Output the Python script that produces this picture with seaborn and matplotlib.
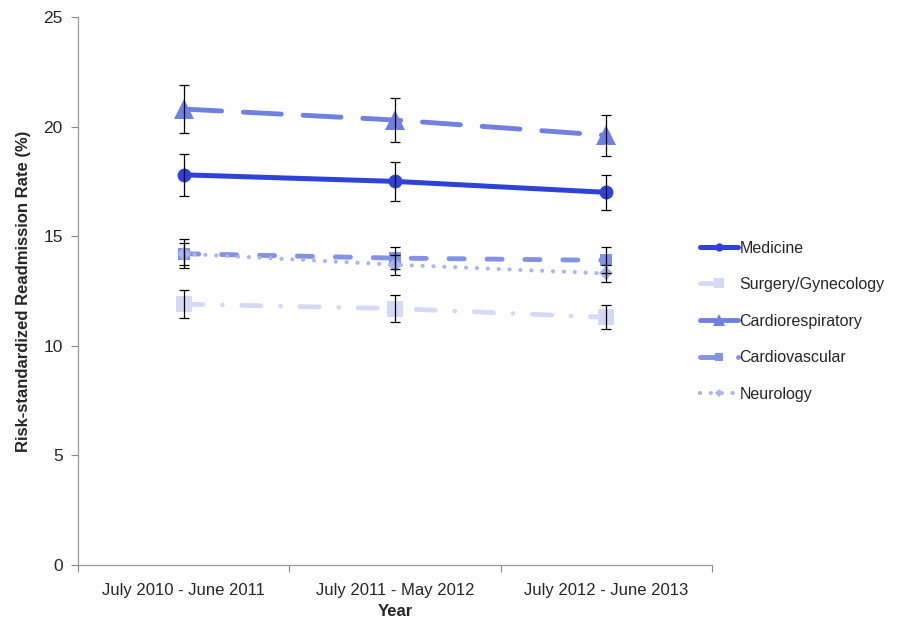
import numpy as np
import pandas as pd
import matplotlib
matplotlib.use("Agg")
import matplotlib.pyplot as plt
import seaborn as sns

# data
periods = ["July 2010 - June 2011", "July 2011 - May 2012", "July 2012 - June 2013"]
series = ["Medicine", "Surgery/Gynecology", "Cardiorespiratory", "Cardiovascular", "Neurology"]
medicine = [17.8, 17.5, 17.0]
surgery = [11.9, 11.7, 11.3]
cardioresp = [20.8, 20.3, 19.6]
cardiovasc = [14.2, 14.0, 13.9]
neurology = [14.2, 13.7, 13.3]
medicine_err = [0.95, 0.9, 0.8]
surgery_err = [0.65, 0.6, 0.55]
cardioresp_err = [1.1, 1.0, 0.95]
cardiovasc_err = [0.65, 0.5, 0.6]
neurology_err = [0.5, 0.45, 0.4]

values = [medicine, surgery, cardioresp, cardiovasc, neurology]
errors = [medicine_err, surgery_err, cardioresp_err, cardiovasc_err, neurology_err]

rows = []
for name, vals, errs in zip(series, values, errors):
    for i, (v, e) in enumerate(zip(vals, errs)):
        rows.append({"series": name, "x": i, "period": periods[i], "rate": v, "err": e})
df = pd.DataFrame(rows)

styles = {
    "Medicine": dict(color="#2f42d8", marker="o", ms=10, lw=3.6, ls="-"),
    "Surgery/Gynecology": dict(color="#d5d9f5", marker="s", ms=11, lw=3.4, ls=(0, (4.1, 4.1, 0.01, 4.1))),
    "Cardiorespiratory": dict(color="#6e80e2", marker="^", ms=14, lw=3.5, ls=(0, (7.8, 4.5))),
    "Cardiovascular": dict(color="#8292e4", marker="s", ms=9, lw=3.5, ls=(0, (3.1, 4.7))),
    "Neurology": dict(color="#aab5ef", marker="D", ms=7.5, lw=3.0, ls=(0, (0.01, 2.6))),
}

sns.set_style("white")
plt.rcParams["font.family"] = ["Liberation Sans", "DejaVu Sans"]

fig = plt.figure(figsize=(8.99, 6.22), dpi=100)
ax = fig.add_axes([0.0868, 0.0916, 0.7052, 0.8811])

for name in series:
    st = styles[name]
    sub = df[df["series"] == name]
    sns.lineplot(data=sub, x="x", y="rate", ax=ax, color=st["color"], marker=st["marker"],
                 markersize=st["ms"], linewidth=st["lw"], linestyle=st["ls"],
                 markeredgewidth=0, label=name, dash_capstyle="round", solid_capstyle="round")
    ax.errorbar(sub["x"], sub["rate"], yerr=sub["err"], fmt="none",
                ecolor="black", elinewidth=0.9, capsize=3.5, capthick=0.9, zorder=5)

ax.set_xlim(-0.5, 2.5)
ax.set_ylim(0, 25)
ax.set_yticks([0, 5, 10, 15, 20, 25])
ax.set_xticks([0, 1, 2])
ax.set_xticklabels(periods)
ax.set_xticks([-0.5, 0.5, 1.5, 2.5], minor=True)
ax.tick_params(axis="x", which="major", length=0, labelsize=12, pad=13)
ax.tick_params(axis="x", which="minor", length=5, color="#888888", width=0.8, direction="out", bottom=True)
ax.tick_params(axis="y", length=5, color="#888888", width=0.8, direction="out", left=True, labelsize=12.5, pad=6)

for s in ["top", "right"]:
    ax.spines[s].set_visible(False)
for s in ["left", "bottom"]:
    ax.spines[s].set_color("#999999")
    ax.spines[s].set_linewidth(0.9)

ax.set_xlabel("Year", fontsize=12, fontweight="bold", labelpad=4)
ax.set_ylabel("Risk-standardized Readmission Rate (%)", fontsize=12, fontweight="bold", labelpad=9)

ax.legend(loc="center left", bbox_to_anchor=(0.958, 0.445), frameon=False,
          fontsize=11.5, handlelength=2.4, handletextpad=0.1, labelspacing=1.35,
          markerscale=0.6)

fig.savefig("out.png", dpi=100)
